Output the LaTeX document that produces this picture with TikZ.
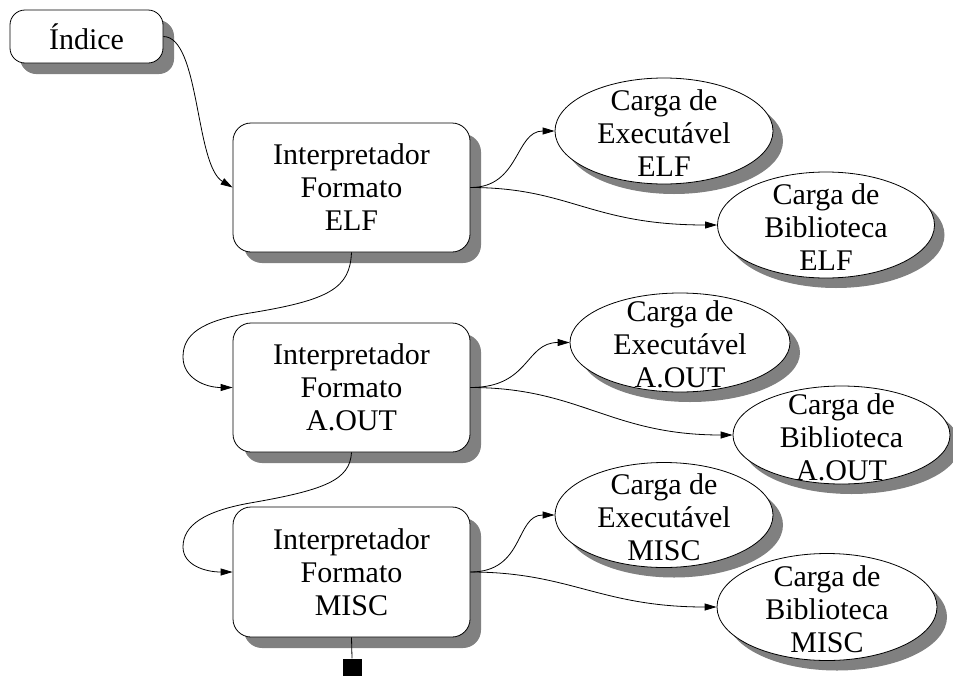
\documentclass[tikz,border=0pt]{standalone}
\usepackage{fontspec}
\setmainfont{Liberation Serif}
\usetikzlibrary{shapes.geometric,arrows.meta,shadows}
\definecolor{shadowgray}{RGB}{128,128,128}
\newcommand\txtfont{\fontsize{30}{33}\selectfont}
\newcommand\elltext[1]{\smash{\raisebox{-12pt}{\makebox[0pt]{\begin{tabular}{@{}c@{}}#1\end{tabular}}}}}
\begin{document}
\begin{tikzpicture}[x=1pt,y=-1pt,
  box/.style={draw, line width=0.8pt, fill=white, rounded corners=18pt, align=center,
    font=\txtfont, inner sep=0pt, minimum width=237pt, minimum height=129pt,
    drop shadow={shadow xshift=11pt, shadow yshift=-11pt, fill=shadowgray, opacity=1}},
  ell/.style={ellipse, draw, line width=0.8pt, fill=white, inner sep=0pt, font=\txtfont,
    drop shadow={shadow xshift=10pt, shadow yshift=-10pt, fill=shadowgray, opacity=1}},
  conn/.style={draw, line width=0.8pt, -{Triangle[length=12pt,width=7pt]}}]
\useasboundingbox (0,0) rectangle (953,675);

\node[box, rounded corners=15pt, minimum width=153pt, minimum height=53pt,
  drop shadow={shadow xshift=10pt, shadow yshift=-10pt, fill=shadowgray, opacity=1}]
  (idx) at (86.5,36.5) {Índice};

\node[box] (elf)  at (351.5,187.5) {Interpretador\\Formato\\ELF};
\node[box] (aout) at (351.5,387.5) {Interpretador\\Formato\\A.OUT};
\node[box, minimum height=130pt] (misc) at (351.5,572) {Interpretador\\Formato\\MISC};

\node[ell, minimum width=218pt, minimum height=106pt] (e1) at (664,131) {\elltext{Carga de\\Executável\\ELF}};
\node[ell, minimum width=217pt, minimum height=106pt] (l1) at (826,225) {\elltext{Carga de\\Biblioteca\\ELF}};
\node[ell, minimum width=220pt, minimum height=99pt] (e2) at (680,342.5) {\elltext{Carga de\\Executável\\A.OUT}};
\node[ell, minimum width=217pt, minimum height=98pt] (l2) at (841.5,435) {\elltext{Carga de\\Biblioteca\\A.OUT}};
\node[ell, minimum width=218pt, minimum height=105pt] (e3) at (664,515) {\elltext{Carga de\\Executável\\MISC}};
\node[ell, minimum width=220pt, minimum height=107pt] (l3) at (827,607) {\elltext{Carga de\\Biblioteca\\MISC}};

\node[fill=black, draw=none, inner sep=0pt, minimum size=19pt] (stop) at (352,668) {};

\draw[conn] (idx.east) .. controls (200,37) and (195,165) .. (elf.west);
\draw[conn] (elf.south) .. controls (350,288) and (330,300) .. (250,313)
  .. controls (200,321) and (183,335) .. (183,357)
  .. controls (183,378) and (205,387.5) .. (aout.west);
\draw[conn] (aout.south) .. controls (350,480) and (325,490) .. (250,503)
  .. controls (205,511) and (183,525) .. (183,547)
  .. controls (183,565) and (205,572) .. (misc.west);
\draw[conn] (elf.east) .. controls (520,187.5) and (515,131) .. (e1.west);
\draw[conn] (elf.east) .. controls (570,187.5) and (590,225) .. (l1.west);
\draw[conn] (aout.east) .. controls (530,387.5) and (525,342.5) .. (e2.west);
\draw[conn] (aout.east) .. controls (580,387.5) and (610,435) .. (l2.west);
\draw[conn] (misc.east) .. controls (525,572) and (515,515) .. (e3.west);
\draw[conn] (misc.east) .. controls (570,572) and (600,607) .. (l3.west);
\draw[line width=0.8pt] (misc.south) -- (stop.north);
\end{tikzpicture}
\end{document}
